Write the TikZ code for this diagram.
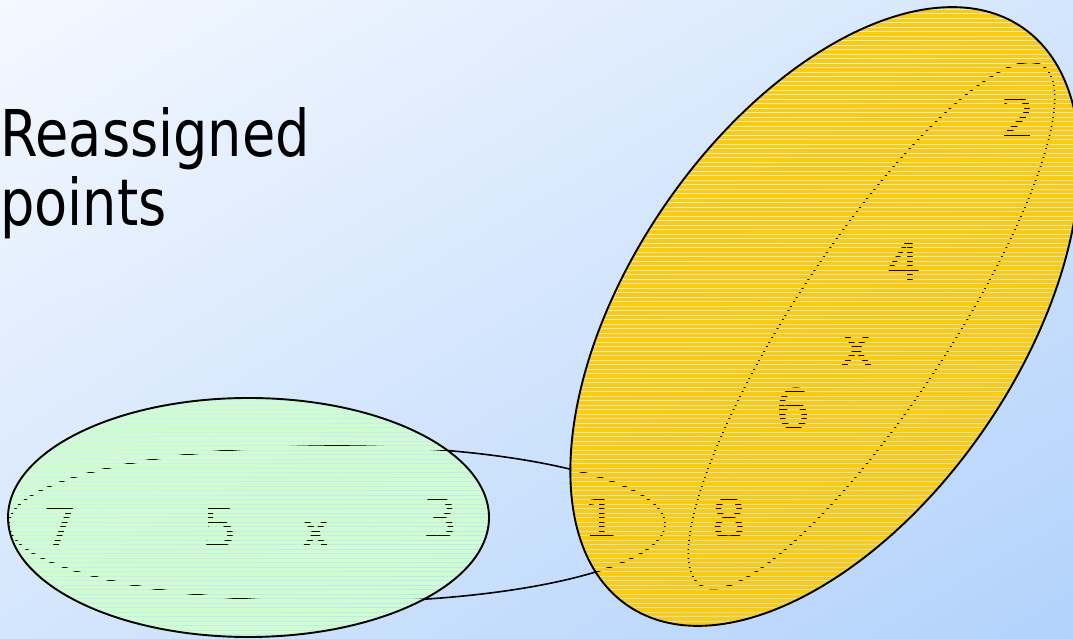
\documentclass[tikz,border=0pt]{standalone}
\usepackage{fontspec}
\setmainfont{DejaVu Sans}
\newfontfamily\titlefont[FakeStretch=0.84]{DejaVu Sans}
\usepackage{tikz}
\usetikzlibrary{
	shadings,
	positioning
}
\definecolor{bgtl}{RGB}{244,248,255}
\definecolor{bgmid}{RGB}{212,230,252}
\definecolor{bgbr}{RGB}{178,210,252}
\definecolor{greenfill}{RGB}{204,255,204}
\definecolor{goldfill}{RGB}{255,204,0}

\begin{document}
\begin{tikzpicture}[
				x=1pt, y=1pt,
				pointlabel/.style={
					inner sep=0pt, font=\fontsize{56}{60}\selectfont
				},
				titletext/.style={
					anchor=base west, inner sep=0pt,
					font=\titlefont\fontsize{64.5}{69}\selectfont
				},
				hull/.style={draw=black, line width=1.6pt},
				rim/.style={draw=black, line width=1.9pt}
				]
				
				% background
				\useasboundingbox (0,0) rectangle (1073,639);
				\clip (0,0) rectangle (1073,639);
				\shade[upper left=bgtl, upper right=bgmid, lower left=bgmid,
				       lower right=bgbr] (0,0) rectangle (1073,639);
				
				% title
				\node[titletext] (title) at (0,482) {Reassigned};
				\node[titletext] (titleb) at (0,413) {points};
				
				% cluster outlines
				\draw[hull] (337,115) ellipse [x radius=328, y radius=78];
				\draw[hull, rotate around={56.6:(871.5,313.5)}]
					(871.5,313.5) ellipse [x radius=311, y radius=78];
				
				% points of the left cluster
				\node[pointlabel] (p7) at (60,112) {7};
				\node[pointlabel] (p5) at (220,112) {5};
				\node[pointlabel] (cA) at (316,105) {x};
				\node[pointlabel] (p3) at (440,120) {3};
				\node[pointlabel] (p1) at (601,120) {1};
				
				% points of the right cluster
				\node[pointlabel] (p8) at (729,120) {8};
				\node[pointlabel] (p6) at (793,230) {6};
				\node[pointlabel] (cB) at (857,289) {x};
				\node[pointlabel] (p4) at (904,377) {4};
				\node[pointlabel] (p2) at (1018,521) {2};
				
				% striped green blob
				\begin{scope}
					\clip (248.5,121.5) ellipse [x radius=240.5, y radius=119.5];
					\foreach \yy in {0,4.5,...,245}
						\fill[greenfill] (0,\yy) rectangle (500,\yy+3.5);
				\end{scope}
				
				% striped gold blob
				\begin{scope}
					\clip[rotate around={55.7:(825,322.5)}]
						(825,322.5) ellipse [x radius=350, y radius=195];
					\foreach \yy in {0,4.5,...,639}
						\fill[goldfill] (560,\yy) rectangle (1090,\yy+3.5);
				\end{scope}
				
				% rims
				\draw[rim] (248.5,121.5) ellipse [x radius=240.5, y radius=119.5];
				\draw[rim, rotate around={55.7:(825,322.5)}]
					(825,322.5) ellipse [x radius=350, y radius=195];
			\end{tikzpicture}
\end{document}
